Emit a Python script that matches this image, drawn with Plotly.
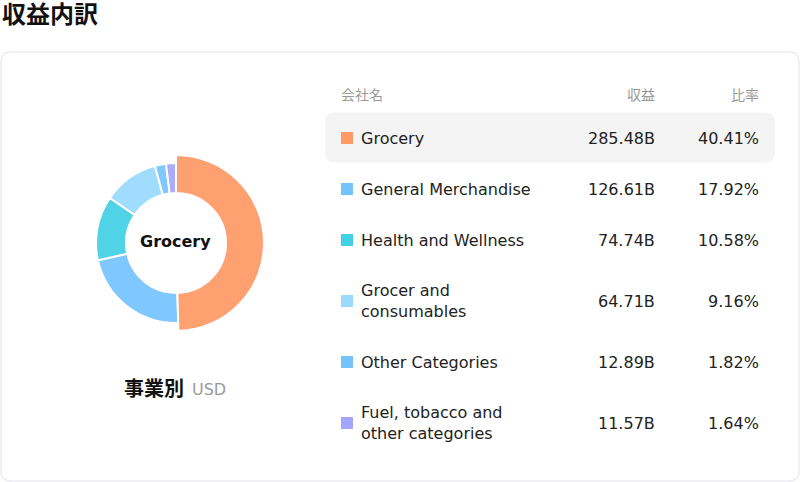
import plotly.graph_objects as go

# revenue breakdown by segment (USD)
categories = ['Grocery', 'General Merchandise', 'Health and Wellness',
              'Grocer and consumables', 'Other Categories',
              'Fuel, tobacco and other categories']
labels_wrapped = ['Grocery', 'General Merchandise', 'Health and Wellness',
                  'Grocer and<br>consumables', 'Other Categories',
                  'Fuel, tobacco and<br>other categories']
revenue_b = [285.48, 126.61, 74.74, 64.71, 12.89, 11.57]
share_pct = [40.41, 17.92, 10.58, 9.16, 1.82, 1.64]
colors = ['#FF9966', '#74C3FF', '#42D0E4', '#99DAFD', '#74C3FF', '#A4A6FE']
active = 0  # highlighted segment (drawn bigger, shown in the centre)

W, H = 800, 482
FONT = 'DejaVu Sans, Noto Sans CJK JP, sans-serif'
CLEAR = 'rgba(0,0,0,0)'


def rounded_rect(x0, y0, x1, y1, r):
	# svg path with quadratic corners (plotly has no arc command)
	return (f'M{x0 + r},{y0} L{x1 - r},{y0} Q{x1},{y0} {x1},{y0 + r} '
	        f'L{x1},{y1 - r} Q{x1},{y1} {x1 - r},{y1} '
	        f'L{x0 + r},{y1} Q{x0},{y1} {x0},{y1 - r} '
	        f'L{x0},{y0 + r} Q{x0},{y0} {x0 + r},{y0} Z')


def pie_domain(cx, cy, r):
	return dict(x=[(cx - r) / W, (cx + r) / W],
	            y=[1 - (cy + r) / H, 1 - (cy - r) / H])


fig = go.Figure()

# donut: base ring plus a second, larger ring holding only the active slice
cx, cy = 176, 243
r_in, r_out, r_active = 50, 80, 88
base_colors = [CLEAR if i == active else c for i, c in enumerate(colors)]
fig.add_trace(go.Pie(
	labels=categories, values=revenue_b, hole=r_in / r_out, sort=False,
	direction='clockwise', rotation=0,
	marker=dict(colors=base_colors, line=dict(color='white', width=2)),
	opacity=0.92, textinfo='none', hoverinfo='label+value',
	showlegend=False, domain=pie_domain(cx, cy, r_out),
))
active_colors = [c if i == active else CLEAR for i, c in enumerate(colors)]
active_lines = [2 if i == active else 0 for i in range(len(colors))]
fig.add_trace(go.Pie(
	labels=categories, values=revenue_b, hole=r_in / r_active, sort=False,
	direction='clockwise', rotation=0,
	marker=dict(colors=active_colors, line=dict(color='white', width=active_lines)),
	opacity=0.92, textinfo='none', hoverinfo='skip',
	showlegend=False, domain=pie_domain(cx, cy, r_active),
))

shapes = []
annotations = []

# card outline
shapes.append(dict(type='path', path=rounded_rect(1, 52, 799, 481, 10),
                   xref='x', yref='y', line=dict(color='#E2E2EA', width=1),
                   fillcolor='white', layer='below'))

annotations.append(dict(x=0, y=15, text='<b>収益内訳</b>', xanchor='left',
                        font=dict(size=24, color='#111')))
annotations.append(dict(x=cx - 1, y=241, text=f'<b>{categories[active]}</b>',
                        font=dict(size=16, color='#111')))
annotations.append(dict(x=186, y=389, text='<b>事業別</b>', xanchor='right',
                        font=dict(size=20, color='#111')))
annotations.append(dict(x=190, y=389, text='USD', xanchor='left',
                        font=dict(size=16, color='#999')))

# table header
head_y = 95
annotations.append(dict(x=339, y=head_y, text='会社名', xanchor='left',
                        font=dict(size=14, color='#999')))
annotations.append(dict(x=657, y=head_y, text='収益', xanchor='right',
                        font=dict(size=14, color='#999')))
annotations.append(dict(x=761, y=head_y, text='比率', xanchor='right',
                        font=dict(size=14, color='#999')))

# table rows
y_top = 112.5
for i, name in enumerate(labels_wrapped):
	h = 71 if '<br>' in name else 51
	yc = y_top + h / 2
	if i == active:
		shapes.append(dict(type='path', xref='x', yref='y', layer='below',
		                   path=rounded_rect(325, y_top, 775, y_top + 50, 10),
		                   fillcolor='#F4F4F4', line=dict(width=0)))
	shapes.append(dict(type='rect', xref='x', yref='y',
	                   x0=341, x1=353, y0=yc - 6, y1=yc + 6,
	                   fillcolor=colors[i], line=dict(width=0)))
	annotations.append(dict(x=359, y=yc, text=name, xanchor='left', align='left',
	                        font=dict(size=16, color='#222')))
	annotations.append(dict(x=657, y=yc, text=f'{revenue_b[i]:.2f}B', xanchor='right',
	                        font=dict(size=16, color='#222')))
	annotations.append(dict(x=761, y=yc, text=f'{share_pct[i]:.2f}%', xanchor='right',
	                        font=dict(size=16, color='#222')))
	y_top += h

for a in annotations:
	a.update(xref='x', yref='y', showarrow=False, yanchor='middle')

fig.update_layout(
	width=W, height=H, margin=dict(l=0, r=0, t=0, b=0),
	paper_bgcolor='white', plot_bgcolor='rgba(0,0,0,0)',
	font=dict(family=FONT),
	xaxis=dict(range=[0, W], visible=False, fixedrange=True),
	yaxis=dict(range=[H, 0], visible=False, fixedrange=True),
	shapes=shapes, annotations=annotations,
)

# drop the default 8px page margin so the figure sits at the window corner
fig.write_html('out.html', config={'displayModeBar': False},
               post_script="document.body.style.margin='0';")
